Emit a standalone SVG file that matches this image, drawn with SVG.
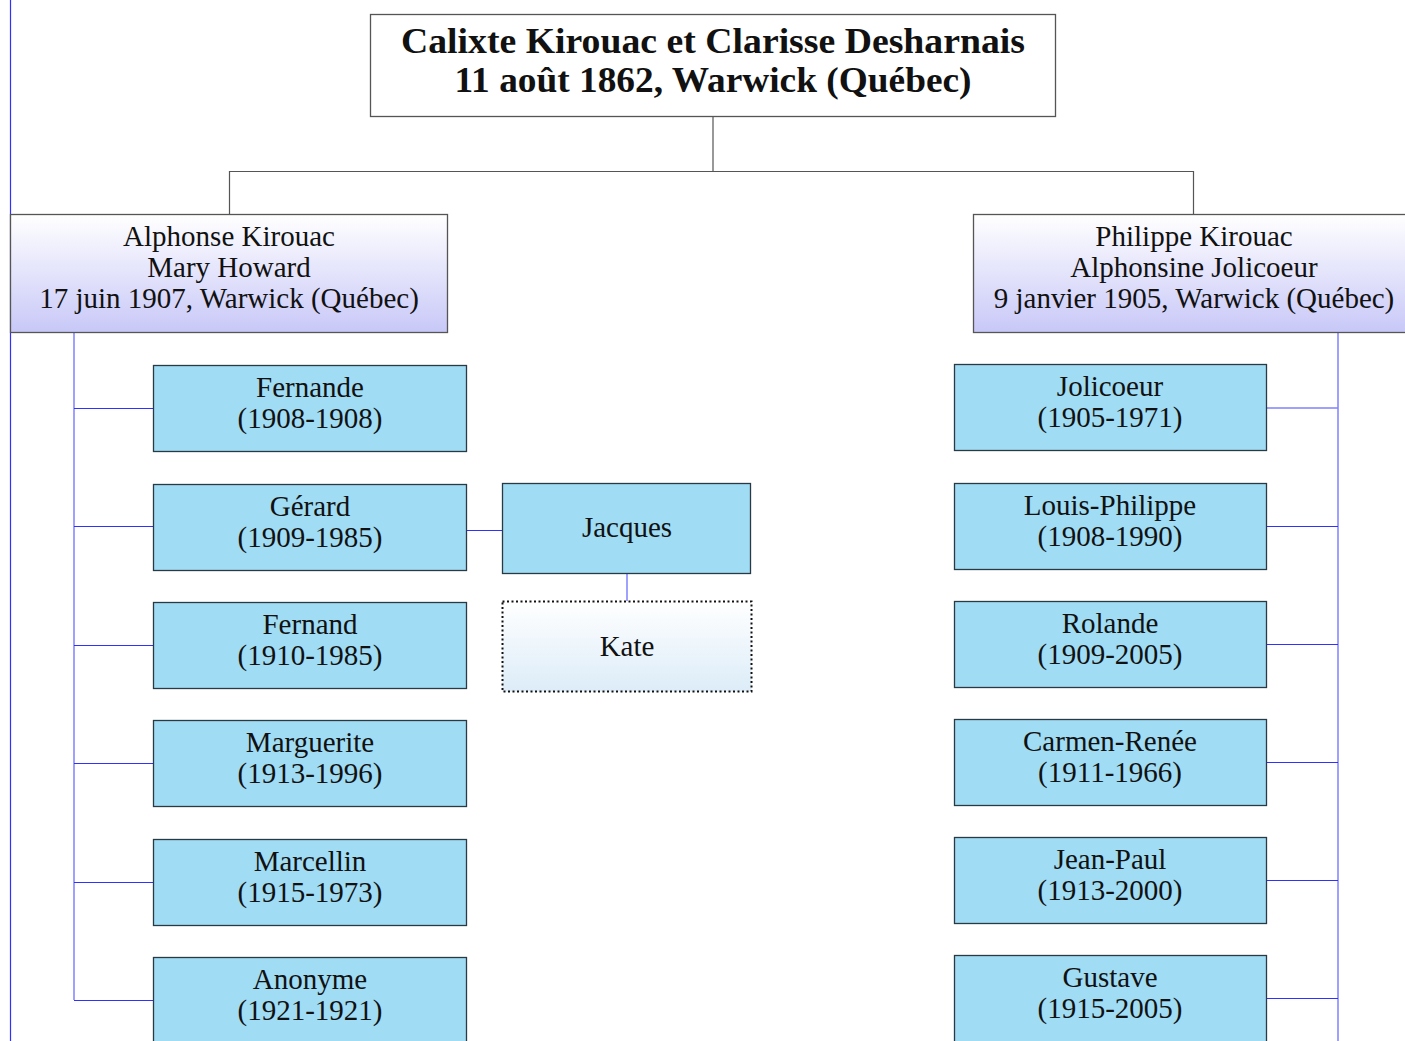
<svg xmlns="http://www.w3.org/2000/svg" width="1405" height="1041" viewBox="0 0 1405 1041">
<defs>
<linearGradient id="gPar" x1="0" y1="0" x2="0" y2="1"><stop offset="0" stop-color="#ffffff"/><stop offset="1" stop-color="#c8c8f8"/></linearGradient>
<linearGradient id="gKate" x1="0" y1="0" x2="0" y2="1"><stop offset="0" stop-color="#ffffff"/><stop offset="1" stop-color="#dcecf8"/></linearGradient>
<style>
text{font-family:'Liberation Serif','DejaVu Serif',serif;font-size:29px;fill:#111;text-anchor:middle}
.title{font-size:35px;font-weight:bold}
.child{fill:#a0dcf4;stroke:#2a3a44;stroke-width:1.3}
.par{fill:url(#gPar);stroke:#555;stroke-width:1.3}
.blue{stroke:#3030ff;stroke-width:1.2;fill:none}
.lblue{stroke:#8080ff;stroke-width:1.5;fill:none}
.gray{stroke:#555;stroke-width:1.2;fill:none}
</style>
</defs>
<rect width="1405" height="1041" fill="#fff"/>
<g id="connectors">
<line class="blue" x1="10.5" y1="0" x2="10.5" y2="1041"/>
<path class="gray" d="M713 117V171M229.5 214V171.5H1193.5V214"/>
<line class="lblue" x1="74" y1="333" x2="74" y2="1000"/>
<path class="blue" d="M74 408.5H153M74 526.5H153M74 645.5H153M74 763.5H153M74 882.5H153M74 1000.5H153"/>
<line class="blue" x1="467" y1="530.5" x2="502" y2="530.5"/>
<line class="lblue" x1="627" y1="574" x2="627" y2="601"/>
<line class="lblue" x1="1338" y1="333" x2="1338" y2="1041"/>
<path class="lblue" d="M1267 408H1338"/>
<path class="blue" d="M1267 526.5H1338M1267 644.5H1338M1267 762.5H1338M1267 880.5H1338M1267 998.5H1338"/>
</g>
<g id="root"><rect x="370.5" y="14.5" width="685" height="102" fill="#fff" stroke="#555" stroke-width="1.3"/>
<text class="title" x="713" y="53" textLength="624" lengthAdjust="spacingAndGlyphs">Calixte  Kirouac et Clarisse Desharnais</text>
<text class="title" x="713" y="92" textLength="517" lengthAdjust="spacingAndGlyphs">11 août 1862, Warwick (Québec)</text></g>
<g id="alphonse"><rect class="par" x="10.5" y="214.5" width="437" height="118"/>
<text x="229" y="246">Alphonse Kirouac</text><text x="229" y="277">Mary Howard</text><text x="229" y="308">17 juin 1907, Warwick (Québec)</text></g>
<g id="philippe"><rect class="par" x="973.5" y="214.5" width="440" height="118"/>
<text x="1194" y="246">Philippe Kirouac</text><text x="1194" y="277">Alphonsine Jolicoeur</text><text x="1194" y="308">9 janvier 1905, Warwick (Québec)</text></g>
<g id="fernande"><rect class="child" x="153.5" y="365.5" width="313" height="86"/><text x="310" y="397">Fernande</text><text x="310" y="428">(1908-1908)</text></g>
<g id="gerard"><rect class="child" x="153.5" y="484.5" width="313" height="86"/><text x="310" y="516">Gérard</text><text x="310" y="547">(1909-1985)</text></g>
<g id="fernand"><rect class="child" x="153.5" y="602.5" width="313" height="86"/><text x="310" y="634">Fernand</text><text x="310" y="665">(1910-1985)</text></g>
<g id="marguerite"><rect class="child" x="153.5" y="720.5" width="313" height="86"/><text x="310" y="752">Marguerite</text><text x="310" y="783">(1913-1996)</text></g>
<g id="marcellin"><rect class="child" x="153.5" y="839.5" width="313" height="86"/><text x="310" y="871">Marcellin</text><text x="310" y="902">(1915-1973)</text></g>
<g id="anonyme"><rect class="child" x="153.5" y="957.5" width="313" height="90"/><text x="310" y="989">Anonyme</text><text x="310" y="1020">(1921-1921)</text></g>
<g id="jacques"><rect class="child" x="502.5" y="483.5" width="248" height="90"/><text x="627" y="537">Jacques</text></g>
<g id="kate"><rect x="502.5" y="601.5" width="249" height="90" fill="url(#gKate)" stroke="#111" stroke-width="2" stroke-dasharray="2,2.5"/><text x="627" y="656">Kate</text></g>
<g id="jolicoeur"><rect class="child" x="954.5" y="364.5" width="312" height="86"/><text x="1110" y="396">Jolicoeur</text><text x="1110" y="427">(1905-1971)</text></g>
<g id="louisphilippe"><rect class="child" x="954.5" y="483.5" width="312" height="86"/><text x="1110" y="515">Louis-Philippe</text><text x="1110" y="546">(1908-1990)</text></g>
<g id="rolande"><rect class="child" x="954.5" y="601.5" width="312" height="86"/><text x="1110" y="633">Rolande</text><text x="1110" y="664">(1909-2005)</text></g>
<g id="carmenrenee"><rect class="child" x="954.5" y="719.5" width="312" height="86"/><text x="1110" y="751">Carmen-Renée</text><text x="1110" y="782">(1911-1966)</text></g>
<g id="jeanpaul"><rect class="child" x="954.5" y="837.5" width="312" height="86"/><text x="1110" y="869">Jean-Paul</text><text x="1110" y="900">(1913-2000)</text></g>
<g id="gustave"><rect class="child" x="954.5" y="955.5" width="312" height="90"/><text x="1110" y="987">Gustave</text><text x="1110" y="1018">(1915-2005)</text></g>
</svg>
